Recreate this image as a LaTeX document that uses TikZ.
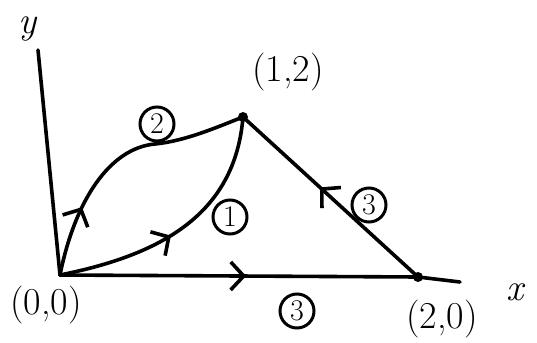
\documentclass[tikz,border=0pt]{standalone}
\usepackage{fontspec}
\usetikzlibrary{arrows.meta, decorations.markings}

\begin{document}
\begin{tikzpicture}[
  x=1pt, y=-1pt,
  curve/.style={line width=3.6pt, line cap=round, line join=round},
  midarrow/.style={postaction={decorate}, decoration={markings, mark=at position #1 with {\arrow{Straight Barb[length=13pt, width=28pt]}}}},
  lbl/.style={font=\fontsize{38}{40}\selectfont, inner sep=0pt},
  axlbl/.style={font=\fontsize{38}{40}\selectfont\itshape, inner sep=0pt},
  num/.style={circle, draw, line width=3pt, inner sep=0pt, minimum size=34pt, font=\fontsize{30}{32}\selectfont}
]
  \useasboundingbox (0,0) rectangle (537,342);

  % Puntos
  \coordinate (o) at (60,275);
  \coordinate (p) at (243,117);
  \coordinate (q) at (418,277);
  \coordinate (ytop) at (38,50);
  \coordinate (xend) at (460,282);

  % Ejes
  \draw[curve] (ytop) -- (o);
  \draw[curve, midarrow=0.52] (o) -- (q);
  \draw[curve] (q) -- (xend);

  % Caminos 1, 2 y 3
  \draw[curve, midarrow=0.27] (o) .. controls (75,200) and (110,148) .. (155,144)
    .. controls (185,141) and (215,128) .. (p);
  \draw[curve, midarrow=0.45] (o) .. controls (160,255) and (235,215) .. (p);
  \draw[curve, midarrow=0.56] (q) -- (p);
  \fill (p) circle (5);
  \fill (q) circle (5);

  % Etiquetas
  \node[axlbl, anchor=base] (ylbl) at (28,34) {y};
  \node[axlbl] (xlbl) at (515,292) {x};
  \node[lbl] (plbl) at (288,72) {(1,2)};
  \node[lbl] (olbl) at (46,305) {(0,0)};
  \node[lbl] (qlbl) at (442,319) {(2,0)};
  \node[num] (c2) at (157,124) {2};
  \node[num] (c1) at (230,217) {1};
  \node[num] (c3a) at (369,205) {3};
  \node[num] (c3b) at (297,311) {3};

\end{tikzpicture}
\end{document}
